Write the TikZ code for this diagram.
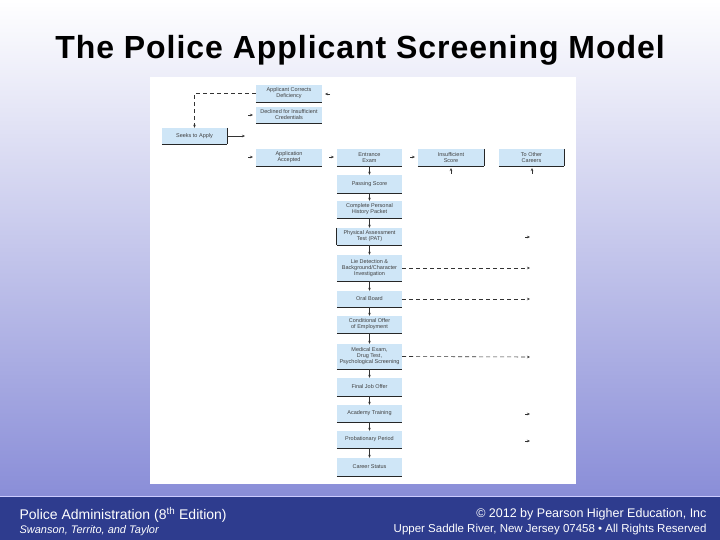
\documentclass[tikz,border=0pt]{standalone}
\usepackage{fontspec}
\setmainfont{Liberation Sans}
\usetikzlibrary{arrows.meta}
\definecolor{boxfill}{HTML}{CFE6F7}
\definecolor{barblue}{HTML}{2E3C8E}
\definecolor{bgtop}{HTML}{FFFFFF}
\definecolor{bgbot}{HTML}{8A8ED8}
\begin{document}
\begin{tikzpicture}[x=1pt,y=-1pt,
  bx/.style={fill=boxfill,inner sep=0pt,align=center,font=\fontsize{5.5}{6}\selectfont,text=black!75},
  ar/.style={-{Stealth[length=3pt,width=2.5pt]},line width=0.6pt,black!80},
  dar/.style={ar,dashed,dash pattern=on 4pt off 3pt},
  tip/.style={-{Stealth[length=3pt,width=2.5pt]},line width=0.5pt,black!80}]
\useasboundingbox (0,0) rectangle (720,540);
\shade[top color=bgtop,bottom color=bgbot] (0,0) rectangle (720,495);
\fill[barblue] (0,497) rectangle (720,540);
\draw[white!80!blue,line width=1pt] (0,496) -- (720,496);
\node (title) at (360,50) {\fontsize{32}{36}\selectfont\bfseries\addfontfeature{LetterSpace=3}The Police Applicant Screening Model};
\node[anchor=west,text=white,font=\fontsize{14}{15}\selectfont] (f1) at (16,515) {Police Administration (8\textsuperscript{th} Edition)};
\node[anchor=west,text=white,font=\fontsize{11}{12}\selectfont\itshape] (f2) at (16,531) {Swanson, Territo, and Taylor};
\node[anchor=east,text=white,font=\fontsize{12.5}{14}\selectfont] (f3) at (710,514) {© 2012 by Pearson Higher Education, Inc};
\node[anchor=east,text=white,font=\fontsize{11.5}{12}\selectfont] (f4) at (710,530) {Upper Saddle River, New Jersey 07458 • All Rights Reserved};
\fill[white] (150,77) rectangle (576,484);
\newcommand{\mybox}[6]{\node[bx,minimum width=#3-#2,minimum height=#5-#4] (#1) at ({(#2+#3)/2},{(#4+#5)/2}) {#6};
  \draw[black!85,line width=0.7pt] (#1.south west) -- (#1.south east);}
\mybox{acd}{256}{322}{85}{102}{Applicant Corrects\\Deficiency}
\mybox{dec}{256}{322}{107}{123}{Declined for Insufficient\\Credentials}
\mybox{sta}{162}{227}{128}{144}{Seeks to Apply}
\draw[black!85,line width=0.7pt] (sta.north east) -- (sta.south east);
\mybox{aac}{256}{322}{149}{166}{Application\\Accepted}
\mybox{ent}{337}{402}{149}{166}{Entrance\\Exam}
\mybox{ins}{418}{484}{149}{166}{Insufficient\\Score}
\draw[black!85,line width=0.7pt] (ins.north east) -- (ins.south east);
\mybox{toc}{499}{564}{149}{166}{To Other\\Careers}
\draw[black!85,line width=0.7pt] (toc.north east) -- (toc.south east);
\mybox{pas}{337}{402}{175}{193}{Passing Score}
\mybox{cph}{337}{402}{201}{218}{Complete Personal\\History Packet}
\mybox{pat}{337}{402}{228}{245}{Physical Assessment\\Test (PAT)}
\draw[black!85,line width=0.7pt] (pat.north west) -- (pat.south west);
\mybox{lie}{337}{402}{255}{281}{Lie Detection \&\\Background/Character\\Investigation}
\mybox{orb}{337}{402}{291}{307}{Oral Board}
\mybox{coe}{337}{402}{316}{333}{Conditional Offer\\of Employment}
\mybox{med}{337}{402}{344}{369}{Medical Exam,\\Drug Test,\\Psychological Screening}
\mybox{fjo}{337}{402}{378}{396}{Final Job Offer}
\mybox{aca}{337}{402}{405}{422}{Academy Training}
\mybox{pro}{337}{402}{431}{448}{Probationary Period}
\mybox{car}{337}{402}{458}{476}{Career Status}
\foreach \a/\b in {ent/pas,pas/cph,cph/pat,pat/lie,lie/orb,orb/coe,coe/med,med/fjo,fjo/aca,aca/pro,pro/car}
  \draw[ar] (\a.south) -- (\b.north);
\draw[dar] (acd.west) -| (sta.north);
\coordinate (sr) at (245,136);
\draw[ar] (sta.east) -- (sr);
\coordinate (d1) at (530,268); \coordinate (d2) at (530,299); \coordinate (d3) at (530,357);
\draw[dar] (lie.east) -- (d1);
\draw[dar] (orb.east) -- (d2);
\draw[dar] (med.east) -- (d3);
\coordinate (t1a) at (330,94); \coordinate (t1b) at (325,94);
\draw[tip] (t1a) -- (t1b);
\foreach \n/\x/\y in {t2/253/115,t3/253/157,t4/334/157,t5/415/157,t6/530/237,t7/530/414,t8/530/441}{
  \coordinate (\n a) at (\x-5,\y); \coordinate (\n b) at (\x,\y);
  \draw[tip] (\n a) -- (\n b);}
\coordinate (u1a) at (451,174); \coordinate (u1b) at (451,168);
\draw[tip] (u1a) -- (u1b);
\coordinate (u2a) at (532,174); \coordinate (u2b) at (532,168);
\draw[tip] (u2a) -- (u2b);
\end{tikzpicture}
\end{document}
